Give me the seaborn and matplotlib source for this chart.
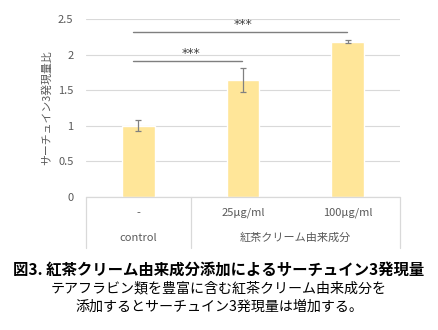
import matplotlib
matplotlib.use("Agg")
import matplotlib.pyplot as plt
import seaborn as sns
import pandas as pd

# ---- data ----
dose_labels = ["-", "25μg/ml", "100μg/ml"]
values = [1.00, 1.64, 2.18]
errors = [0.075, 0.165, 0.02]
group_labels = ["control", "紅茶クリーム由来成分"]
sig_pairs = [(0, 1), (0, 2)]
sig_heights = [1.91, 2.32]
sig_marks = ["***", "***"]
yticks = [0, 0.5, 1, 1.5, 2, 2.5]
ytick_labels = ["0", "0.5", "1", "1.5", "2", "2.5"]
ylabel = "サーチュイン3発現量比"
title = "図3. 紅茶クリーム由来成分添加によるサーチュイン3発現量"
subtitle1 = "テアフラビン類を豊富に含む紅茶クリーム由来成分を"
subtitle2 = "添加するとサーチュイン3発現量は増加する。"

sns.set_theme(style="white")
plt.rcParams["font.family"] = ["Noto Sans CJK JP", "DejaVu Sans"]

W, H = 438, 330
fig = plt.figure(figsize=(W / 100, H / 100), dpi=100)
L, R, T, B = 86, 400, 19, 197
ax = fig.add_axes([L / W, 1 - B / H, (R - L) / W, (B - T) / H])

df = pd.DataFrame({"dose": dose_labels, "value": values})
sns.barplot(data=df, x="dose", y="value", ax=ax, color="#FFE699",
            width=0.31, saturation=1, errorbar=None, zorder=2)
ax.errorbar(range(len(values)), values, yerr=errors, fmt="none",
            ecolor="#808080", elinewidth=0.9, capsize=2.2, capthick=0.9, zorder=3)

ax.set_ylim(0, 2.5)
ax.set_xlim(-0.5, len(values) - 0.5)
ax.set_yticks(yticks)
ax.set_yticklabels(ytick_labels)
ax.yaxis.grid(True, color="#D9D9D9", linewidth=0.8, zorder=0)
ax.set_axisbelow(True)
for s in ax.spines.values():
    s.set_visible(False)
ax.tick_params(axis="y", length=0, pad=9, labelsize=8, labelcolor="#595959")
ax.set_xticks([])
ax.set_xlabel("")
ax.set_ylabel(ylabel, fontsize=7.8, color="#595959", labelpad=4)

# significance brackets
for (i, j), h, m in zip(sig_pairs, sig_heights, sig_marks):
    ax.plot([i - 0.05, j - 0.01], [h, h], color="#7F7F7F", lw=1.0, zorder=4)
    ax.text((i + j) / 2, h + 0.01, m, ha="center", va="bottom",
            fontsize=9, color="#404040", family="DejaVu Sans")

# category table below the axis
tr = ax.get_xaxis_transform()
table_bottom = -(248 - B) / (B - T)
ax.plot([-0.5, 2.5], [0, 0], transform=tr, color="#D9D9D9", lw=0.9, clip_on=False)
for xv in [-0.5, 0.5, 2.5]:
    ax.plot([xv, xv], [0, table_bottom], transform=tr, color="#D9D9D9",
            lw=0.9, clip_on=False)
row1 = -(213 - B) / (B - T)
row2 = -(238 - B) / (B - T)
for k, lab in enumerate(dose_labels):
    ax.text(k, row1, lab, transform=tr, ha="center", va="center",
            fontsize=8, color="#595959")
ax.text(0, row2, group_labels[0], transform=tr, ha="center", va="center",
        fontsize=8, color="#595959")
ax.text(1.5, row2, group_labels[1], transform=tr, ha="center", va="center",
        fontsize=8, color="#595959")

# captions
fig.text(0.5, 1 - 270 / H, title, ha="center", va="center",
         fontsize=11.1, fontweight="bold", color="#000000")
fig.text(0.5, 1 - 288 / H, subtitle1, ha="center", va="center",
         fontsize=10.1, color="#000000")
fig.text(0.5, 1 - 307 / H, subtitle2, ha="center", va="center",
         fontsize=10.1, color="#000000")

fig.savefig("out.png", dpi=100)
